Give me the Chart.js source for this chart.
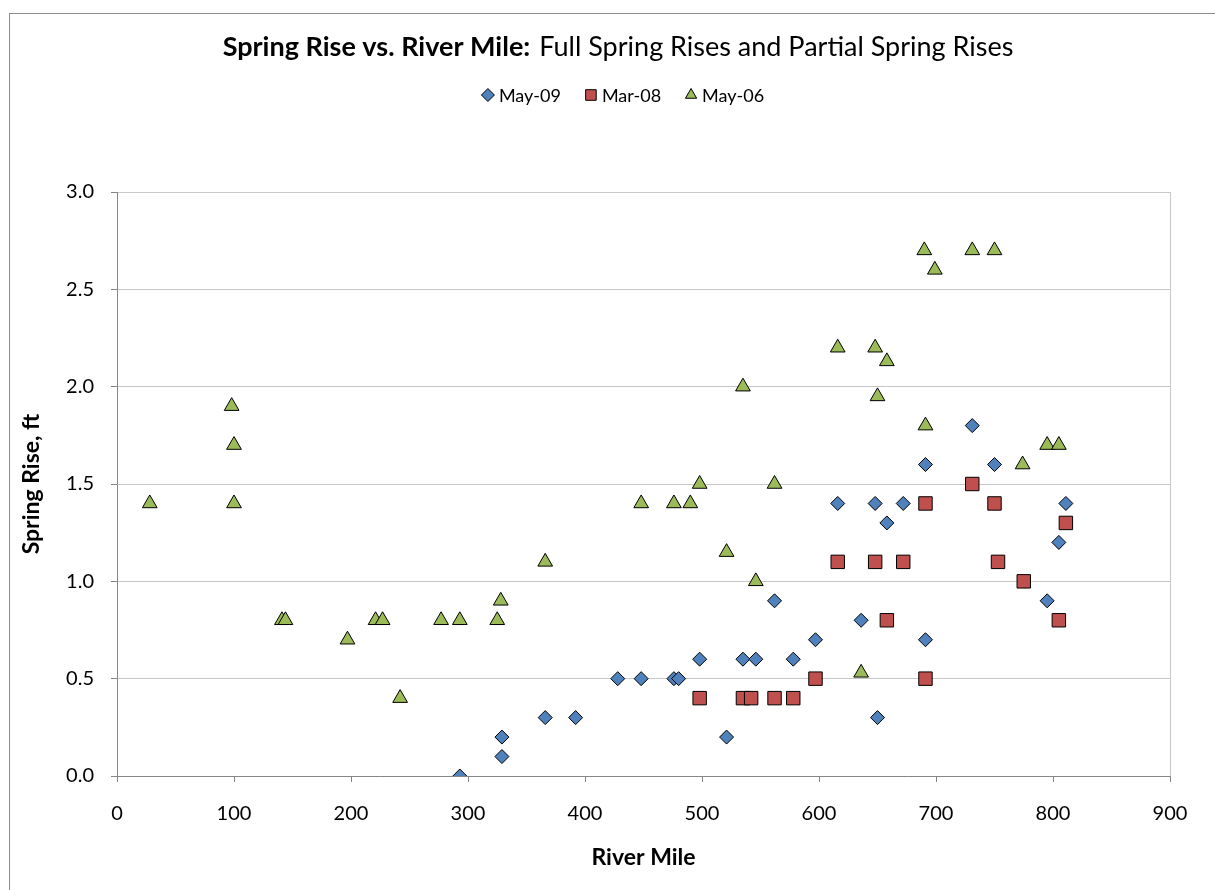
<!DOCTYPE html>
<html>
<head>
<meta charset="utf-8">
<script src="https://cdn.jsdelivr.net/npm/chart.js@4/dist/chart.umd.min.js"></script>
<style>
  html, body { margin: 0; padding: 0; background: #fff; }
  #wrap { position: relative; width: 1215px; height: 890px; overflow: hidden; }
  #frame { position: absolute; left: 9px; top: 13px; width: 1300px; height: 1000px;
           border-left: 1px solid #8c8c8c; border-top: 1px solid #8c8c8c; }
  #chart { position: absolute; left: 0; top: 0; }
</style>
</head>
<body>
<div id="wrap">
  <div id="frame"></div>
  <canvas id="chart" width="1215" height="890"></canvas>
</div>
<script>
const FONT = 'Lato, "Open Sans", sans-serif'

const titleBold = 'Spring Rise vs. River Mile:'
const titleRest = 'Full Spring Rises and Partial Spring Rises'
const xTitle = 'River Mile'
const yTitle = 'Spring Rise, ft'

const seriesNames = ['May-09', 'Mar-08', 'May-06']
const xTicks = [0, 100, 200, 300, 400, 500, 600, 700, 800, 900]
const yTicks = [0, 0.5, 1.0, 1.5, 2.0, 2.5, 3.0]

// May-09 (blue diamonds)
const may09Mile = [293, 329, 329, 366, 392, 428, 448, 476, 480, 498, 521, 535, 546, 562, 578, 597, 616, 636, 648, 650, 658, 672, 691, 691, 731, 750, 795, 805, 811]
const may09Rise = [0.0, 0.1, 0.2, 0.3, 0.3, 0.5, 0.5, 0.5, 0.5, 0.6, 0.2, 0.6, 0.6, 0.9, 0.6, 0.7, 1.4, 0.8, 1.4, 0.3, 1.3, 1.4, 1.6, 0.7, 1.8, 1.6, 0.9, 1.2, 1.4]

// Mar-08 (red squares)
const mar08Mile = [498, 535, 542, 562, 578, 597, 616, 648, 658, 672, 691, 691, 731, 750, 753, 775, 805, 811]
const mar08Rise = [0.4, 0.4, 0.4, 0.4, 0.4, 0.5, 1.1, 1.1, 0.8, 1.1, 1.4, 0.5, 1.5, 1.4, 1.1, 1.0, 0.8, 1.3]

// May-06 (green triangles)
const may06Mile = [28, 98, 100, 100, 141, 144, 197, 221, 227, 242, 277, 293, 325, 328, 366, 448, 476, 490, 498, 521, 535, 546, 562, 616, 636, 648, 650, 658, 690, 691, 699, 731, 750, 774, 795, 805]
const may06Rise = [1.4, 1.9, 1.7, 1.4, 0.8, 0.8, 0.7, 0.8, 0.8, 0.4, 0.8, 0.8, 0.8, 0.9, 1.1, 1.4, 1.4, 1.4, 1.5, 1.15, 2.0, 1.0, 1.5, 2.2, 0.53, 2.2, 1.95, 2.13, 2.7, 1.8, 2.6, 2.7, 2.7, 1.6, 1.7, 1.7]

const toPoints = (xs, ys) => xs.map((x, i) => ({ x, y: ys[i] }))

const datasets = [
  { label: seriesNames[0], data: toPoints(may09Mile, may09Rise), pointStyle: 'rectRot', pointRadius: 7,
    backgroundColor: '#4f81bd', borderColor: '#000', borderWidth: 1 },
  { label: seriesNames[1], data: toPoints(mar08Mile, mar08Rise), pointStyle: 'rect', pointRadius: 9.5,
    backgroundColor: '#c0504d', borderColor: '#000', borderWidth: 1 },
  { label: seriesNames[2], data: toPoints(may06Mile, may06Rise), pointStyle: 'triangle', pointRadius: 8.5,
    backgroundColor: '#9bbb59', borderColor: '#000', borderWidth: 1 }
]

// title and legend drawn on top of the canvas
const header = {
  id: 'header',
  afterDraw(chart) {
    const ctx = chart.ctx
    ctx.save()
    ctx.fillStyle = '#000'
    ctx.textBaseline = 'middle'
    ctx.textAlign = 'left'

    const size = 27
    ctx.font = `bold ${size}px ${FONT}`
    const wb = ctx.measureText(titleBold).width
    const gap = 9
    ctx.font = `${size}px ${FONT}`
    const wr = ctx.measureText(titleRest).width
    let x = 618 - (wb + gap + wr) / 2
    ctx.font = `bold ${size}px ${FONT}`
    ctx.fillText(titleBold, x, 47)
    ctx.font = `${size}px ${FONT}`
    ctx.fillText(titleRest, x + wb + gap, 47)

    // legend
    ctx.font = `18px ${FONT}`
    const mark = 12, markGap = 5, itemGap = 24
    const widths = chart.data.datasets.map(d => ctx.measureText(d.label).width)
    const total = widths.reduce((a, w) => a + mark + markGap + w, 0) + itemGap * (widths.length - 1)
    x = 623 - total / 2
    const y = 95
    chart.data.datasets.forEach((d, i) => {
      ctx.fillStyle = d.backgroundColor
      ctx.strokeStyle = '#000'
      ctx.lineWidth = 1
      Chart.helpers.drawPoint(ctx, {
        pointStyle: d.pointStyle,
        radius: d.pointStyle === 'rect' ? 7.5 : 6.5,
        rotation: 0,
        borderWidth: 1
      }, x + mark / 2, y)
      ctx.fillStyle = '#000'
      ctx.fillText(d.label, x + mark + markGap, y + 1)
      x += mark + markGap + widths[i] + itemGap
    })
    ctx.restore()
  }
}

new Chart(document.getElementById('chart'), {
  type: 'scatter',
  data: { datasets },
  plugins: [header],
  options: {
    responsive: false,
    animation: false,
    layout: { padding: { left: 0, top: 192, right: 45, bottom: 0 } },
    plugins: {
      legend: { display: false },
      title: { display: false },
      tooltip: { enabled: false }
    },
    scales: {
      x: {
        type: 'linear',
        min: xTicks[0],
        max: xTicks[xTicks.length - 1],
        afterBuildTicks: s => { s.ticks = xTicks.map(v => ({ value: v })) },
        afterFit: s => { s.height = 114 },
        border: { color: '#868686', width: 1 },
        grid: {
          drawOnChartArea: true,
          color: c => c.tick && c.tick.value === 900 ? '#c8c8c8' : 'rgba(0,0,0,0)',
          tickColor: '#868686',
          tickLength: 6
        },
        ticks: { color: '#000', padding: 20, font: { family: FONT, size: 20 } },
        title: { display: true, text: xTitle, color: '#000', padding: { top: 4, bottom: 19 },
                 font: { family: FONT, size: 23, weight: 'bold' } }
      },
      y: {
        min: yTicks[0],
        max: yTicks[yTicks.length - 1],
        afterBuildTicks: s => { s.ticks = yTicks.map(v => ({ value: v })) },
        afterFit: s => { s.width = 117 },
        border: { color: '#868686', width: 1 },
        grid: { color: '#c8c8c8', tickColor: '#868686', tickLength: 6 },
        ticks: { color: '#000', padding: 17, font: { family: FONT, size: 20 },
                 callback: v => v.toFixed(1) },
        title: { display: true, text: yTitle, color: '#000', padding: { top: 18, bottom: 4 },
                 font: { family: FONT, size: 23, weight: 'bold' } }
      }
    }
  }
})
</script>
</body>
</html>
